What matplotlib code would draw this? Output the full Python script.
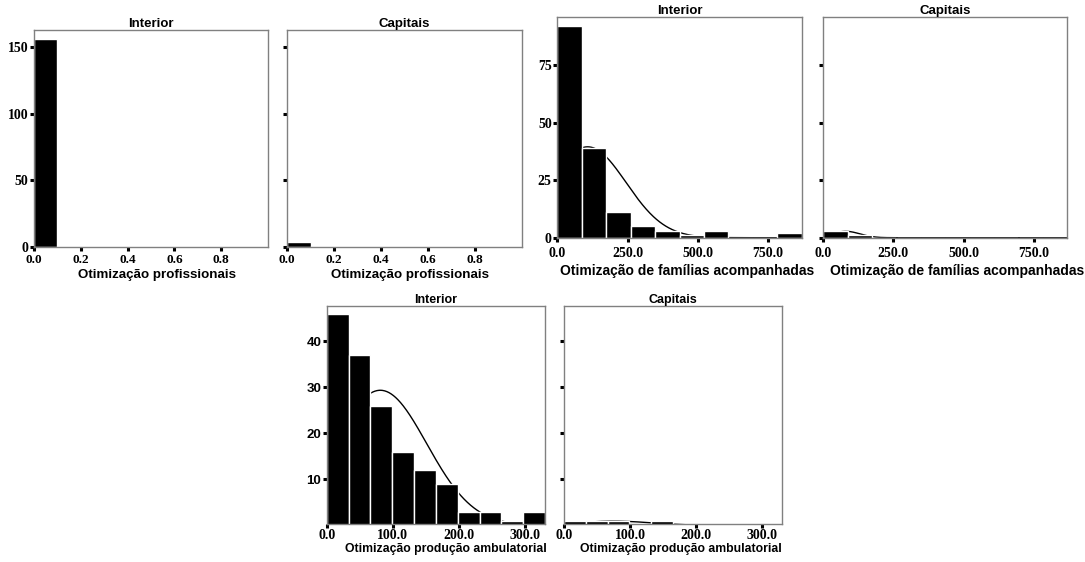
import numpy as np
import matplotlib
matplotlib.use("Agg")
import matplotlib.pyplot as plt

# ---------------- data ----------------
prof_bin_width = 0.1
prof_interior = [156, 0, 0, 0, 0, 0, 0, 0, 0, 0]
prof_capitais = [4, 0, 0, 0, 0, 0, 0, 0, 0, 0]
prof_xticks = [0.0, 0.2, 0.4, 0.6, 0.8]
prof_yticks = [0, 50, 100, 150]

fam_bin_width = 87
fam_interior = [92, 39, 11, 5, 3, 1, 3, 0, 0, 2]
fam_capitais = [3, 1, 0, 0, 0, 0, 0, 0, 0, 0]
fam_xticks = [0.0, 250.0, 500.0, 750.0]
fam_yticks = [0, 25, 50, 75]
fam_interior_fit = dict(mean=108, sd=137, n=156)
fam_capitais_fit = dict(mean=80, sd=50, n=4)

amb_bin_width = 33
amb_interior = [46, 37, 26, 16, 12, 9, 3, 3, 1, 3]
amb_capitais = [1, 1, 1, 0, 1, 0, 0, 0, 0, 0]
amb_xticks = [0.0, 100.0, 200.0, 300.0]
amb_yticks = [10, 20, 30, 40]
amb_interior_fit = dict(mean=81, sd=70, n=156)
amb_capitais_fit = dict(mean=75, sd=57, n=4)

titles = ["Interior", "Capitais"]
xlabels = ["Otimização profissionais", "Otimização de famílias acompanhadas",
           "Otimização produção ambulatorial"]

# ---------------- figure ----------------
W, H = 1085, 562
fig = plt.figure(figsize=(W / 100, H / 100), dpi=100)
fig.patch.set_facecolor("white")

SERIF = "Liberation Serif"
SANS = "Liberation Sans"


def add_ax(left, right, top, bottom):
    return fig.add_axes([left / W, 1 - bottom / H, (right - left) / W, (bottom - top) / H])


def draw(ax, counts, bw, xlim, ylim, xticks, yticks, title, xlabel,
         fit=None, ylabels=True, yfont=SERIF, yfs=10, xfs=10, lfs=10, tfs=9.5,
         xpad=1.0, lpad=2.0, lshift_px=0.0):
    counts = np.asarray(counts, dtype=float)
    edges = np.arange(len(counts)) * bw
    if fit is not None:
        xs = np.linspace(xlim[0], xlim[1], 400)
        ys = fit["n"] * bw / (fit["sd"] * np.sqrt(2 * np.pi)) * \
            np.exp(-0.5 * ((xs - fit["mean"]) / fit["sd"]) ** 2)
        ax.plot(xs, ys, color="black", lw=1.0, zorder=1, clip_on=True)
    ax.bar(edges, counts, width=bw, align="edge", color="black",
           edgecolor="white", linewidth=1.0, zorder=2)
    ax.set_xlim(*xlim)
    ax.set_ylim(*ylim)
    ax.set_xticks(xticks)
    ax.set_xticklabels([f"{t:.1f}" for t in xticks], fontfamily=SERIF,
                       fontweight="bold", fontsize=xfs)
    ax.set_yticks(yticks)
    if ylabels:
        ax.set_yticklabels([str(t) for t in yticks], fontfamily=yfont,
                           fontweight="bold", fontsize=yfs)
    else:
        ax.set_yticklabels([])
    ax.tick_params(axis="both", direction="out", length=3, width=2.2,
                   color="black", pad=1.0)
    ax.tick_params(axis="x", pad=xpad)
    for s in ax.spines.values():
        s.set_color("#808080")
        s.set_linewidth(1.0)
    ax.set_title(title, fontfamily=SANS, fontweight="bold", fontsize=tfs, pad=1.5)
    ax.set_xlabel(xlabel, fontfamily=SANS, fontweight="bold", fontsize=lfs,
                  labelpad=lpad)
    bbox = ax.get_position()
    ax.xaxis.label.set_x(0.5 + lshift_px / (bbox.width * W))


# top-left pair: profissionais
ax1 = add_ax(34, 268, 30, 247)
draw(ax1, prof_interior, prof_bin_width, (0, 1.0), (0, 162.7), prof_xticks,
     prof_yticks, titles[0], xlabels[0], xfs=9.5, lfs=9.6, xpad=2.0, lpad=2.0,
     lshift_px=6)
ax2 = add_ax(287.3, 521.7, 30, 247)
draw(ax2, prof_capitais, prof_bin_width, (0, 1.0), (0, 162.7), prof_xticks,
     prof_yticks, titles[1], xlabels[0], ylabels=False, xfs=9.5, lfs=9.6,
     xpad=2.0, lpad=2.0, lshift_px=5)

# top-right pair: famílias
ax3 = add_ax(557.3, 801.7, 17, 237.7)
draw(ax3, fam_interior, fam_bin_width, (0, 870), (0, 96), fam_xticks,
     fam_yticks, titles[0], xlabels[1], fit=fam_interior_fit, xpad=4.0,
     lpad=2.5, lshift_px=8)
ax4 = add_ax(823.3, 1067.3, 17, 237.7)
draw(ax4, fam_capitais, fam_bin_width, (0, 870), (0, 96), fam_xticks,
     fam_yticks, titles[1], xlabels[1], fit=fam_capitais_fit, ylabels=False,
     xpad=4.0, lpad=2.5, lshift_px=12)

# bottom pair: ambulatorial
ax5 = add_ax(326.7, 545, 305.7, 524)
draw(ax5, amb_interior, amb_bin_width, (0, 330), (0.3, 47.7), amb_xticks,
     amb_yticks, titles[0], xlabels[2], fit=amb_interior_fit, yfont=SANS,
     yfs=9.5, xfs=10, lfs=8.8, tfs=9, xpad=0.5, lpad=0.5, lshift_px=10)
ax6 = add_ax(564, 781.7, 305.7, 524)
draw(ax6, amb_capitais, amb_bin_width, (0, 330), (0.3, 47.7), amb_xticks,
     amb_yticks, titles[1], xlabels[2], fit=amb_capitais_fit, ylabels=False,
     xfs=10, lfs=8.8, tfs=9, xpad=0.5, lpad=0.5, lshift_px=8)

fig.savefig("out.png", dpi=100, facecolor="white")
